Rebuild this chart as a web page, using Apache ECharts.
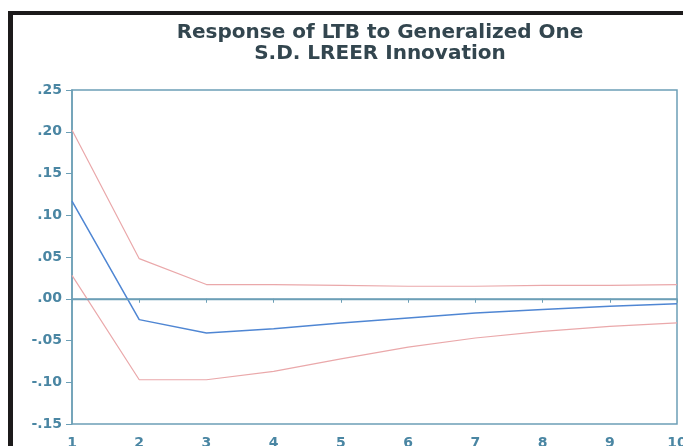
<!DOCTYPE html>
<html>
<head>
<meta charset="utf-8">
<script src="https://cdn.jsdelivr.net/npm/echarts@6/dist/echarts.min.js"></script>
<style>
html,body{margin:0;padding:0;background:#fff;}
#chart{width:683px;height:446px;}
</style>
</head>
<body>
<div id="chart"></div>
<script>
var periods = ['1','2','3','4','5','6','7','8','9','10'];
var response = [0.117, -0.025, -0.041, -0.036, -0.029, -0.023, -0.017, -0.013, -0.009, -0.006];
var upperBand = [0.202, 0.048, 0.017, 0.017, 0.016, 0.015, 0.015, 0.016, 0.016, 0.017];
var lowerBand = [0.028, -0.097, -0.097, -0.087, -0.072, -0.058, -0.047, -0.039, -0.033, -0.029];
var titleLines = ['Response of LTB to Generalized One', 'S.D. LREER Innovation'];

var axisColor = '#6c9fb6';
var labelColor = '#4a86a3';

var chart = echarts.init(document.getElementById('chart'));
chart.setOption({
  animation: false,
  backgroundColor: '#fff',
  title: {
    text: titleLines.join('\n'),
    left: 375,
    textAlign: 'center',
    top: 17,
    textStyle: {
      fontFamily: 'DejaVu Sans',
      fontSize: 20,
      fontWeight: 'bold',
      color: '#33464f',
      lineHeight: 21
    }
  },
  graphic: [
    { type: 'rect', shape: { x: 8, y: 11, width: 675, height: 4 }, style: { fill: '#1c1a1b' } },
    { type: 'rect', shape: { x: 8, y: 11, width: 5, height: 435 }, style: { fill: '#1c1a1b' } }
  ],
  grid: {
    left: 72, right: 6, top: 90, bottom: 22,
    outerBoundsMode: 'none', containLabel: false,
    show: true, borderColor: axisColor, borderWidth: 1.5, backgroundColor: 'transparent'
  },
  xAxis: {
    type: 'category',
    data: periods,
    boundaryGap: false,
    axisLine: { lineStyle: { color: axisColor, width: 1.5 } },
    axisTick: { show: true, length: 4, lineStyle: { color: axisColor } },
    axisLabel: { color: labelColor, fontFamily: 'DejaVu Sans', fontWeight: 'bold', fontSize: 14, margin: 12, hideOverlap: false },
    splitLine: { show: false }
  },
  yAxis: {
    type: 'value',
    min: -0.15, max: 0.25, interval: 0.05,
    axisLine: { show: true, lineStyle: { color: axisColor, width: 1.5 } },
    axisTick: { show: true, length: 6, lineStyle: { color: axisColor } },
    axisLabel: {
      color: labelColor, fontFamily: 'DejaVu Sans', fontWeight: 'bold', fontSize: 14, margin: 10,
      formatter: function (v) {
        var s = Math.abs(v).toFixed(2).replace(/^0/, '');
        return (v < -1e-9 ? '-' : '') + s;
      }
    },
    splitLine: { show: false }
  },
  series: [
    {
      type: 'line', data: upperBand, symbol: 'none',
      lineStyle: { color: '#eaa8aa', width: 1.2 }
    },
    {
      type: 'line', data: lowerBand, symbol: 'none',
      lineStyle: { color: '#eaa8aa', width: 1.2 }
    },
    {
      type: 'line', data: response, symbol: 'none',
      lineStyle: { color: '#4f86d3', width: 1.5 },
      markLine: {
        silent: true, symbol: 'none', label: { show: false },
        lineStyle: { color: axisColor, width: 1.3, type: 'solid' },
        data: [{ yAxis: 0 }]
      }
    }
  ]
});
</script>
</body>
</html>
